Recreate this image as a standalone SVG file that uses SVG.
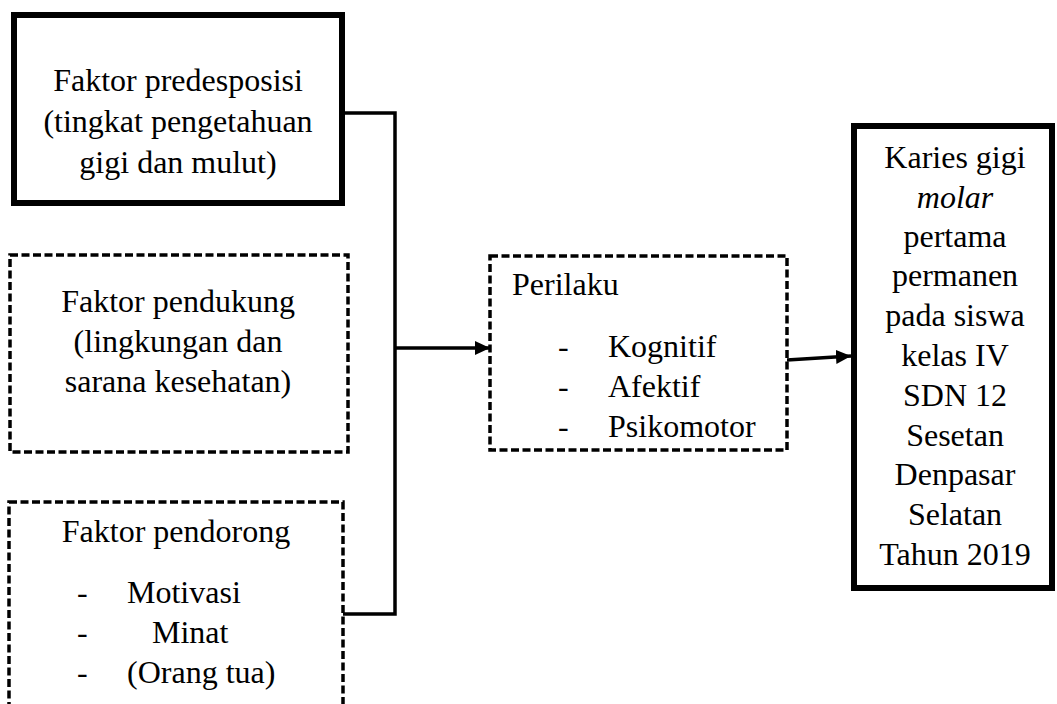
<svg xmlns="http://www.w3.org/2000/svg" width="1057" height="704" viewBox="0 0 1057 704">
<style>
text{font-family:"Liberation Serif","Times New Roman",serif;font-size:32px;fill:#000}
.c{text-anchor:middle}
.solid{fill:#fff;stroke:#000}
.dash{fill:#fff;stroke:#000;stroke-width:3.5;stroke-dasharray:8 3.5}
.wire{fill:none;stroke:#000;stroke-width:3.5}
</style>
<defs>
<marker id="ah" markerWidth="16" markerHeight="14" refX="15" refY="7" orient="auto" markerUnits="userSpaceOnUse">
<path d="M0,0 L15,7 L0,14 Z" fill="#000"/>
</marker>
</defs>
<g id="connectors">
<path class="wire" d="M342,113 H395 V614 H343"/>
<line class="wire" x1="395" y1="348" x2="490" y2="348" marker-end="url(#ah)"/>
<line class="wire" x1="787" y1="360" x2="851" y2="356" marker-end="url(#ah)"/>
</g>
<g id="predesposisi">
<rect class="solid" x="14" y="15" width="328" height="188" stroke-width="6"/>
<text class="c" x="178" y="91">Faktor predesposisi</text>
<text class="c" x="178" y="132">(tingkat pengetahuan</text>
<text class="c" x="178" y="173">gigi dan mulut)</text>
</g>
<g id="pendukung">
<rect class="dash" x="10" y="255" width="338" height="197"/>
<text class="c" x="178" y="312">Faktor pendukung</text>
<text class="c" x="178" y="352">(lingkungan dan</text>
<text class="c" x="178" y="392">sarana kesehatan)</text>
</g>
<g id="pendorong">
<rect class="dash" x="9" y="502" width="334" height="230"/>
<text class="c" x="176" y="542">Faktor pendorong</text>
<text x="77" y="603">-</text><text x="127" y="603">Motivasi</text>
<text x="77" y="643">-</text><text x="152" y="643">Minat</text>
<text x="77" y="683">-</text><text x="127" y="683">(Orang tua)</text>
</g>
<g id="perilaku">
<rect class="dash" x="490" y="256" width="297" height="194"/>
<text x="512" y="295">Perilaku</text>
<text x="558" y="357">-</text><text x="608" y="357">Kognitif</text>
<text x="558" y="397">-</text><text x="608" y="397">Afektif</text>
<text x="558" y="437">-</text><text x="608" y="437">Psikomotor</text>
</g>
<g id="karies">
<rect class="solid" x="854" y="126" width="198" height="462" stroke-width="6"/>
<text class="c" x="955" y="168">Karies gigi</text>
<text class="c" x="955" y="208" font-style="italic">molar</text>
<text class="c" x="955" y="247">pertama</text>
<text class="c" x="955" y="286">permanen</text>
<text class="c" x="955" y="326">pada siswa</text>
<text class="c" x="955" y="366">kelas IV</text>
<text class="c" x="955" y="406">SDN 12</text>
<text class="c" x="955" y="446">Sesetan</text>
<text class="c" x="955" y="485">Denpasar</text>
<text class="c" x="955" y="525">Selatan</text>
<text class="c" x="955" y="565">Tahun 2019</text>
</g>
</svg>
